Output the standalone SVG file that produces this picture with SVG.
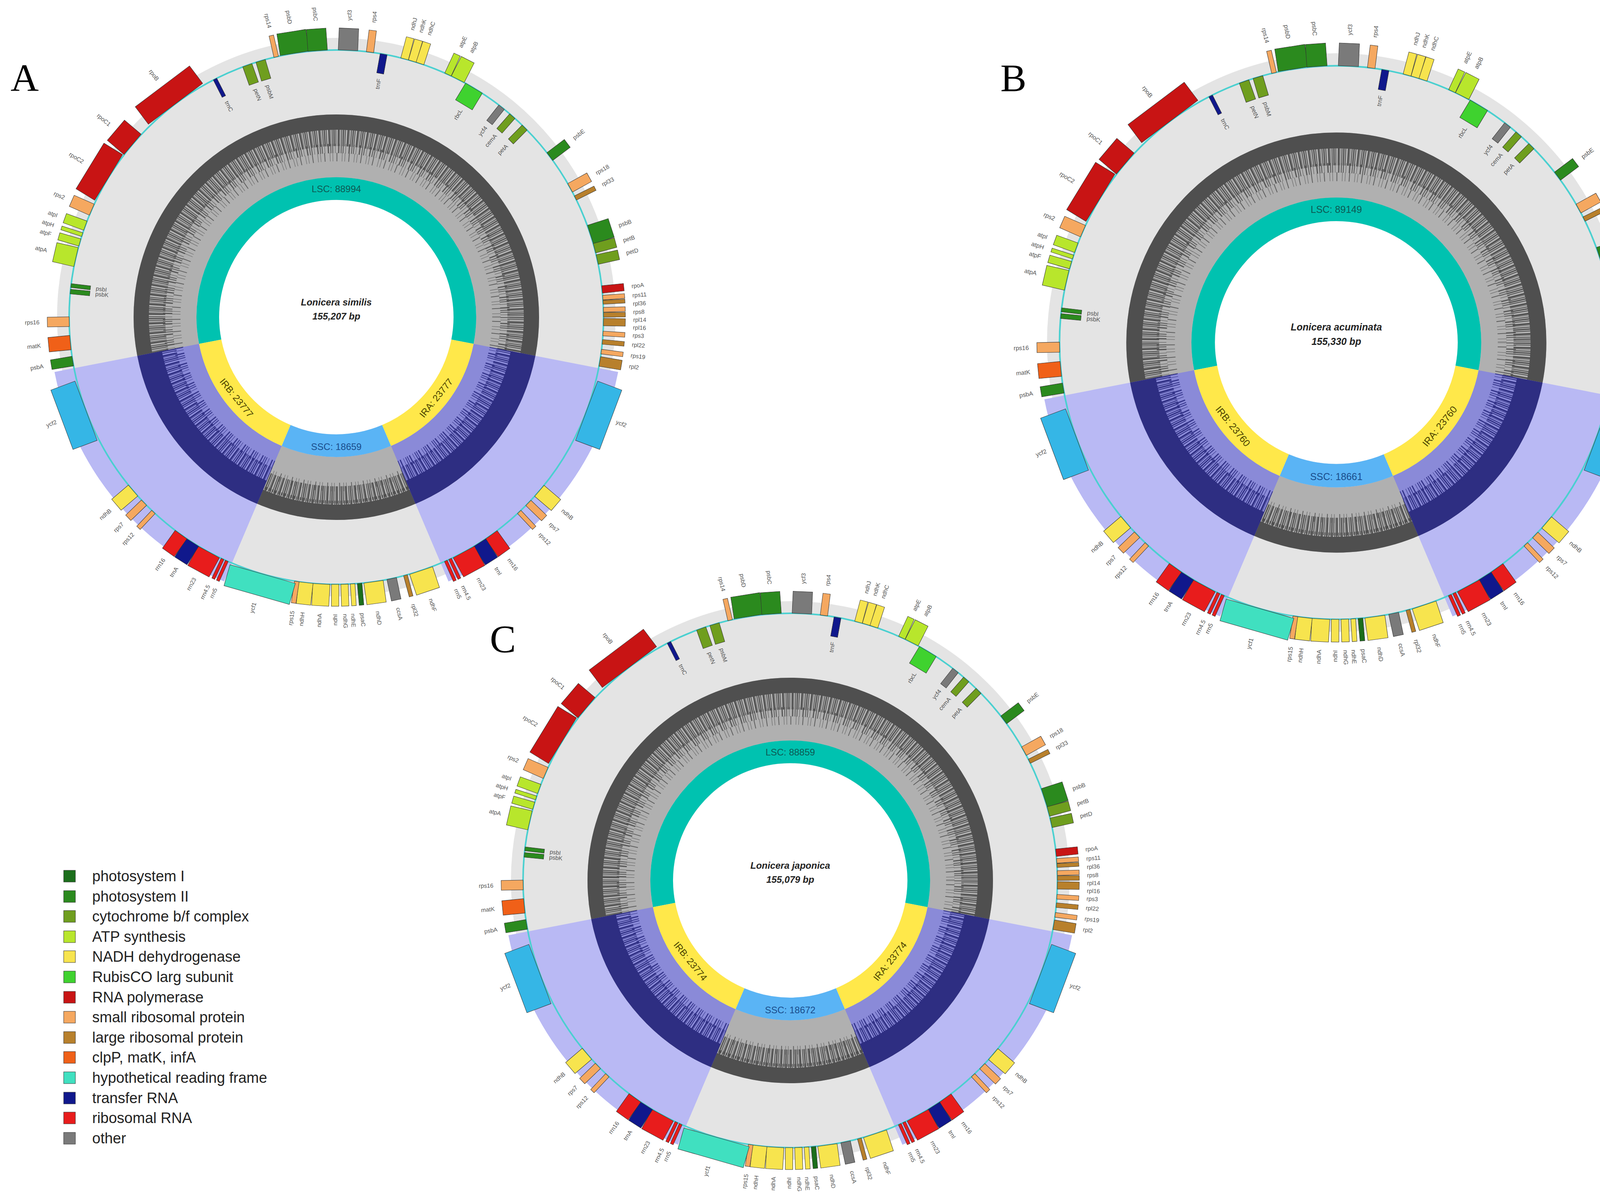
<svg xmlns="http://www.w3.org/2000/svg" xmlns:xlink="http://www.w3.org/1999/xlink" width="4287" height="3072" viewBox="0 0 4287 3072">
<style>
text{font-family:"Liberation Sans",Arial,sans-serif}
.pl{font-family:"Liberation Serif","Times New Roman",serif;font-size:100px;fill:#000}
.lg{font-size:38px;fill:#222}
.g rect{stroke:#333;stroke-width:1}
.c1{fill:#1b6e1b}.c2{fill:#2b8a1e}.c3{fill:#6f9e1e}.c4{fill:#b8e62c}.c5{fill:#f7e44e}.c6{fill:#3fd22f}.c7{fill:#c81414}.c8{fill:#f5a860}.c9{fill:#b8802c}.c10{fill:#f06018}.c11{fill:#40e0c0}.c12{fill:#10188c}.c13{fill:#e81c1c}.c14{fill:#7a7a7a}.c15{fill:#35b6e6}
.lb text{font-size:15px;fill:#555}
.lo{text-anchor:start}.le{text-anchor:end}
.ring{fill:none;stroke-width:58}
.ti{font-size:24px;font-weight:bold;font-style:italic;text-anchor:middle;fill:#222}
.rl{font-size:24px;text-anchor:middle}
.d1{fill:none;stroke-width:44;stroke-dasharray:3 2 2 4 4 1 1 3 2 2}
.d2{fill:none;stroke-width:24;stroke-dasharray:2 5 1 7 3 4 2 3}
.d3{fill:none;stroke-width:22;stroke-dasharray:1 9 2 12 1 6}
</style>
<defs>
<g id="map">
<circle r="715" fill="#e4e4e4"/>
<path d="M721.5 140.2 A735 735 0 0 1 287.2 676.6 L202.8 477.7 A519 519 0 0 0 509.5 99 Z" fill="#b9b9f4"/>
<path d="M-721.5 140.2 A735 735 0 0 0 -287.2 676.6 L-202.8 477.7 A519 519 0 0 1 -509.5 99 Z" fill="#b9b9f4"/>
<circle r="438.5" fill="none" stroke="#b0b0b0" stroke-width="161"/>
<circle r="499.5" fill="none" stroke="#4f4f4f" stroke-width="39"/>
<circle r="460" class="d1" stroke="#4f4f4f"/>
<circle r="432" class="d2" stroke="#555"/>
<circle r="410" class="d3" stroke="#5e5e5e"/>
<path d="M509.5 99 A519 519 0 0 1 202.8 477.7 L139.9 329.5 A358 358 0 0 0 351.4 68.3 Z" fill="#8a8ad8"/>
<path d="M-509.5 99 A519 519 0 0 0 -202.8 477.7 L-139.9 329.5 A358 358 0 0 1 -351.4 68.3 Z" fill="#8a8ad8"/>
<path d="M478 92.9 A487 487 0 0 1 190.3 448.3 M-478 92.9 A487 487 0 0 0 -190.3 448.3" fill="none" stroke="#2e2e82" stroke-width="64"/>
<path class="d1" stroke="#2e2e82" d="M431.7 83.9 A440 440 0 0 1 171.9 405 M-431.7 83.9 A440 440 0 0 0 -171.9 405"/>
<path class="d2" stroke="#34348a" d="M404.2 78.6 A412 412 0 0 1 161 379.2 M-404.2 78.6 A412 412 0 0 0 -161 379.2"/>
<path d="M183.6 432.6 A470 470 0 0 1 -183.6 432.6 L-139.9 329.5 A358 358 0 0 0 139.9 329.5 Z" fill="#b0b0b0"/>
<path class="d1" stroke="#4f4f4f" d="M177.8 418.8 A455 455 0 0 1 -177.8 418.8"/>
<path class="d3" stroke="#5e5e5e" d="M169.9 400.4 A435 435 0 0 1 -169.9 400.4"/>
<circle r="300" fill="#ffffff"/>
<path class="ring" stroke="#00c2b0" d="M-322.9 62.8 A329 329 0 1 1 322.9 62.8"/>
<path class="ring" stroke="#ffe84a" d="M322.9 62.8 A329 329 0 0 1 128.5 302.8 M-128.5 302.8 A329 329 0 0 1 -322.9 62.8"/>
<path class="ring" stroke="#5ab4f5" d="M128.5 302.8 A329 329 0 0 1 -128.5 302.8"/>
<circle r="684" fill="none" stroke="#4ad0d0" stroke-width="4"/>
<g class="g">
<rect class="c2" transform="rotate(351)" x="-37" y="-740" width="75" height="56"/>
<rect class="c2" transform="rotate(356)" x="-25" y="-740" width="50" height="56"/>
<rect class="c8" transform="rotate(347)" x="-6" y="-740" width="12" height="56"/>
<rect class="c14" transform="rotate(2.5)" x="-25" y="-740" width="50" height="56"/>
<rect class="c8" transform="rotate(7.2)" x="-9" y="-740" width="19" height="56"/>
<rect class="c12" transform="rotate(10.2)" x="-9" y="-684" width="18" height="50"/>
<rect class="c5" transform="rotate(14.8)" x="-10" y="-740" width="20" height="56"/>
<rect class="c5" transform="rotate(16.5)" x="-10" y="-740" width="21" height="56"/>
<rect class="c5" transform="rotate(18.2)" x="-10" y="-740" width="21" height="56"/>
<rect class="c4" transform="rotate(24.7)" x="-9" y="-740" width="18" height="56"/>
<rect class="c4" transform="rotate(27)" x="-18" y="-740" width="37" height="56"/>
<rect class="c6" transform="rotate(31)" x="-25" y="-684" width="50" height="50"/>
<rect class="c14" transform="rotate(38.2)" x="-9" y="-684" width="18" height="50"/>
<rect class="c3" transform="rotate(41.2)" x="-9" y="-684" width="18" height="50"/>
<rect class="c3" transform="rotate(44.8)" x="-9" y="-684" width="18" height="50"/>
<rect class="c2" transform="rotate(53)" x="-12" y="-740" width="25" height="56"/>
<rect class="c8" transform="rotate(61)" x="-12" y="-740" width="25" height="56"/>
<rect class="c9" transform="rotate(63.5)" x="-6" y="-740" width="12" height="56"/>
<rect class="c2" transform="rotate(72)" x="-25" y="-740" width="50" height="56"/>
<rect class="c3" transform="rotate(75)" x="-12" y="-740" width="25" height="56"/>
<rect class="c3" transform="rotate(77.5)" x="-12" y="-740" width="25" height="56"/>
<rect class="c7" transform="rotate(84)" x="-9" y="-740" width="19" height="56"/>
<rect class="c8" transform="rotate(85.8)" x="-6" y="-740" width="12" height="56"/>
<rect class="c9" transform="rotate(86.8)" x="-5" y="-740" width="10" height="56"/>
<rect class="c8" transform="rotate(88.4)" x="-6" y="-740" width="12" height="56"/>
<rect class="c9" transform="rotate(89.5)" x="-6" y="-740" width="12" height="56"/>
<rect class="c9" transform="rotate(91)" x="-9" y="-740" width="19" height="56"/>
<rect class="c8" transform="rotate(93.5)" x="-6" y="-740" width="12" height="56"/>
<rect class="c9" transform="rotate(95.3)" x="-6" y="-740" width="12" height="56"/>
<rect class="c8" transform="rotate(97.4)" x="-6" y="-740" width="12" height="56"/>
<rect class="c9" transform="rotate(99.5)" x="-12" y="-740" width="25" height="56"/>
<rect class="c15" transform="rotate(110.5)" x="-81" y="-750" width="162" height="66"/>
<rect class="c5" transform="rotate(130.5)" x="-18" y="-740" width="37" height="56"/>
<rect class="c8" transform="rotate(134)" x="-9" y="-740" width="19" height="56"/>
<rect class="c8" transform="rotate(136.8)" x="-6" y="-740" width="12" height="56"/>
<rect class="c13" transform="rotate(144.5)" x="-18" y="-740" width="37" height="56"/>
<rect class="c12" transform="rotate(147.5)" x="-18" y="-740" width="37" height="56"/>
<rect class="c13" transform="rotate(151.5)" x="-31" y="-740" width="62" height="56"/>
<rect class="c13" transform="rotate(154.8)" x="-4" y="-740" width="8" height="56"/>
<rect class="c13" transform="rotate(155.8)" x="-4" y="-740" width="8" height="56"/>
<rect class="c5" transform="rotate(161.5)" x="-31" y="-740" width="62" height="56"/>
<rect class="c9" transform="rotate(165)" x="-5" y="-740" width="10" height="56"/>
<rect class="c14" transform="rotate(168)" x="-12" y="-740" width="25" height="56"/>
<rect class="c5" transform="rotate(172)" x="-25" y="-740" width="50" height="56"/>
<rect class="c1" transform="rotate(175)" x="-6" y="-740" width="12" height="56"/>
<rect class="c5" transform="rotate(176.5)" x="-6" y="-740" width="12" height="56"/>
<rect class="c5" transform="rotate(178.2)" x="-9" y="-740" width="19" height="56"/>
<rect class="c5" transform="rotate(180.2)" x="-9" y="-740" width="19" height="56"/>
<rect class="c5" transform="rotate(183.2)" x="-22" y="-740" width="44" height="56"/>
<rect class="c5" transform="rotate(186.5)" x="-18" y="-740" width="37" height="56"/>
<rect class="c8" transform="rotate(188.5)" x="-6" y="-740" width="12" height="56"/>
<rect class="c11" transform="rotate(196)" x="-87" y="-740" width="174" height="56"/>
<rect class="c13" transform="rotate(204.2)" x="-4" y="-740" width="8" height="56"/>
<rect class="c13" transform="rotate(205.2)" x="-4" y="-740" width="8" height="56"/>
<rect class="c13" transform="rotate(208.5)" x="-31" y="-740" width="62" height="56"/>
<rect class="c12" transform="rotate(212.5)" x="-18" y="-740" width="37" height="56"/>
<rect class="c13" transform="rotate(215.5)" x="-18" y="-740" width="37" height="56"/>
<rect class="c8" transform="rotate(223.2)" x="-6" y="-740" width="12" height="56"/>
<rect class="c8" transform="rotate(226)" x="-9" y="-740" width="19" height="56"/>
<rect class="c5" transform="rotate(229.5)" x="-18" y="-740" width="37" height="56"/>
<rect class="c15" transform="rotate(249.5)" x="-81" y="-750" width="162" height="66"/>
<rect class="c2" transform="rotate(260.5)" x="-12" y="-740" width="25" height="56"/>
<rect class="c10" transform="rotate(264.5)" x="-18" y="-740" width="37" height="56"/>
<rect class="c8" transform="rotate(269)" x="-12" y="-740" width="25" height="56"/>
<rect class="c2" transform="rotate(275.5)" x="-6" y="-684" width="12" height="50"/>
<rect class="c2" transform="rotate(276.8)" x="-5" y="-684" width="10" height="50"/>
<rect class="c4" transform="rotate(283)" x="-25" y="-740" width="50" height="56"/>
<rect class="c4" transform="rotate(286.2)" x="-9" y="-740" width="19" height="56"/>
<rect class="c4" transform="rotate(288)" x="-5" y="-740" width="10" height="56"/>
<rect class="c4" transform="rotate(290)" x="-12" y="-740" width="25" height="56"/>
<rect class="c8" transform="rotate(293.7)" x="-15" y="-740" width="31" height="56"/>
<rect class="c7" transform="rotate(301.5)" x="-68" y="-740" width="137" height="56"/>
<rect class="c7" transform="rotate(310.3)" x="-34" y="-740" width="68" height="56"/>
<rect class="c7" transform="rotate(323)" x="-87" y="-740" width="174" height="56"/>
<rect class="c12" transform="rotate(333)" x="-5" y="-684" width="10" height="50"/>
<rect class="c3" transform="rotate(340.5)" x="-12" y="-684" width="25" height="50"/>
<rect class="c3" transform="rotate(343.5)" x="-12" y="-684" width="25" height="50"/>
</g>
<g class="lb">
<text class="le" transform="rotate(81)" x="-760" y="5">psbD</text>
<text class="le" transform="rotate(86)" x="-760" y="5">psbC</text>
<text class="le" transform="rotate(77)" x="-760" y="5">rps14</text>
<text class="lo" transform="rotate(-87.5)" x="760" y="5">ycf3</text>
<text class="lo" transform="rotate(-82.8)" x="760" y="5">rps4</text>
<text class="le" transform="rotate(-79.8)" x="620" y="5">trnF</text>
<text class="lo" transform="rotate(-75.2)" x="760" y="5">ndhJ</text>
<text class="lo" transform="rotate(-73.5)" x="760" y="5">ndhK</text>
<text class="lo" transform="rotate(-71.8)" x="760" y="5">ndhC</text>
<text class="lo" transform="rotate(-65.3)" x="760" y="5">atpE</text>
<text class="lo" transform="rotate(-63)" x="760" y="5">atpB</text>
<text class="le" transform="rotate(-59)" x="620" y="5">rbcL</text>
<text class="le" transform="rotate(-51.8)" x="620" y="5">ycf4</text>
<text class="le" transform="rotate(-48.8)" x="620" y="5">cemA</text>
<text class="le" transform="rotate(-45.2)" x="620" y="5">petA</text>
<text class="lo" transform="rotate(-37)" x="760" y="5">psbE</text>
<text class="lo" transform="rotate(-29)" x="760" y="5">rps18</text>
<text class="lo" transform="rotate(-26.5)" x="760" y="5">rpl33</text>
<text class="lo" transform="rotate(-18)" x="760" y="5">psbB</text>
<text class="lo" transform="rotate(-15)" x="760" y="5">petB</text>
<text class="lo" transform="rotate(-12.5)" x="760" y="5">petD</text>
<text class="lo" transform="rotate(-6)" x="760" y="5">rpoA</text>
<text class="lo" transform="rotate(-4.2)" x="760" y="5">rps11</text>
<text class="lo" transform="rotate(-2.6)" x="760" y="5">rpl36</text>
<text class="lo" transform="rotate(-1)" x="760" y="5">rps8</text>
<text class="lo" transform="rotate(0.5)" x="760" y="5">rpl14</text>
<text class="lo" transform="rotate(2)" x="760" y="5">rpl16</text>
<text class="lo" transform="rotate(3.5)" x="760" y="5">rps3</text>
<text class="lo" transform="rotate(5.3)" x="760" y="5">rpl22</text>
<text class="lo" transform="rotate(7.4)" x="760" y="5">rps19</text>
<text class="lo" transform="rotate(9.5)" x="760" y="5">rpl2</text>
<text class="lo" transform="rotate(20.5)" x="765" y="5">ycf2</text>
<text class="lo" transform="rotate(40.5)" x="760" y="5">ndhB</text>
<text class="lo" transform="rotate(44)" x="760" y="5">rps7</text>
<text class="lo" transform="rotate(46.8)" x="760" y="5">rps12</text>
<text class="lo" transform="rotate(54.5)" x="760" y="5">rrn16</text>
<text class="lo" transform="rotate(57.5)" x="760" y="5">trnI</text>
<text class="lo" transform="rotate(61.5)" x="760" y="5">rrn23</text>
<text class="lo" transform="rotate(64.8)" x="760" y="5">rrn4.5</text>
<text class="lo" transform="rotate(66.3)" x="760" y="5">rrn5</text>
<text class="lo" transform="rotate(71.5)" x="760" y="5">ndhF</text>
<text class="lo" transform="rotate(75)" x="760" y="5">rpl32</text>
<text class="lo" transform="rotate(78)" x="760" y="5">ccsA</text>
<text class="lo" transform="rotate(82)" x="760" y="5">ndhD</text>
<text class="lo" transform="rotate(85)" x="760" y="5">psaC</text>
<text class="lo" transform="rotate(86.8)" x="760" y="5">ndhE</text>
<text class="lo" transform="rotate(88.3)" x="760" y="5">ndhG</text>
<text class="le" transform="rotate(270.2)" x="-760" y="5">ndhI</text>
<text class="le" transform="rotate(273.2)" x="-760" y="5">ndhA</text>
<text class="le" transform="rotate(276.5)" x="-760" y="5">ndhH</text>
<text class="le" transform="rotate(278.5)" x="-760" y="5">rps15</text>
<text class="le" transform="rotate(286)" x="-760" y="5">ycf1</text>
<text class="le" transform="rotate(294)" x="-760" y="5">rrn5</text>
<text class="le" transform="rotate(295.5)" x="-760" y="5">rrn4.5</text>
<text class="le" transform="rotate(298.5)" x="-760" y="5">rrn23</text>
<text class="le" transform="rotate(302.5)" x="-760" y="5">trnA</text>
<text class="le" transform="rotate(305.5)" x="-760" y="5">rrn16</text>
<text class="le" transform="rotate(313.2)" x="-760" y="5">rps12</text>
<text class="le" transform="rotate(316)" x="-760" y="5">rps7</text>
<text class="le" transform="rotate(319.5)" x="-760" y="5">ndhB</text>
<text class="le" transform="rotate(339.5)" x="-765" y="5">ycf2</text>
<text class="le" transform="rotate(350.5)" x="-760" y="5">psbA</text>
<text class="le" transform="rotate(354.5)" x="-760" y="5">matK</text>
<text class="le" transform="rotate(359)" x="-760" y="5">rps16</text>
<text class="lo" transform="rotate(365.5)" x="-620" y="5">psbK</text>
<text class="lo" transform="rotate(366.8)" x="-620" y="5">psbI</text>
<text class="le" transform="rotate(13)" x="-760" y="5">atpA</text>
<text class="le" transform="rotate(16.2)" x="-760" y="5">atpF</text>
<text class="le" transform="rotate(18)" x="-760" y="5">atpH</text>
<text class="le" transform="rotate(20)" x="-760" y="5">atpI</text>
<text class="le" transform="rotate(23.7)" x="-760" y="5">rps2</text>
<text class="le" transform="rotate(31.5)" x="-760" y="5">rpoC2</text>
<text class="le" transform="rotate(40.3)" x="-760" y="5">rpoC1</text>
<text class="le" transform="rotate(53)" x="-760" y="5">rpoB</text>
<text class="lo" transform="rotate(63)" x="-620" y="5">trnC</text>
<text class="lo" transform="rotate(70.5)" x="-620" y="5">petN</text>
<text class="lo" transform="rotate(73.5)" x="-620" y="5">psbM</text>
</g>
</g>
</defs>
<g id="labels">
<text class="pl" x="27" y="233">A</text>
<text class="pl" x="2561" y="233">B</text>
<text class="pl" x="1254" y="1669">C</text>
</g>
<g id="mapA" transform="translate(861,812)">
<use href="#map" xlink:href="#map"/>
<text class="rl" x="0" y="-320" fill="#0d5b55">LSC: 88994</text>
<text class="rl" x="0" y="340" fill="#1a4d8c">SSC: 18659</text>
<text class="rl" transform="translate(-255.7,207) rotate(51)" y="8" fill="#4a4200">IRB: 23777</text>
<text class="rl" transform="translate(255.7,207) rotate(-51)" y="8" fill="#4a4200">IRA: 23777</text>
<text class="ti" x="0" y="-30">Lonicera similis</text>
<text class="ti" x="0" y="6">155,207 bp</text>
</g>
<g id="mapB" transform="translate(3421,877) scale(1.036)">
<use href="#map" xlink:href="#map"/>
<text class="rl" x="0" y="-320" fill="#0d5b55">LSC: 89149</text>
<text class="rl" x="0" y="340" fill="#1a4d8c">SSC: 18661</text>
<text class="rl" transform="translate(-255.7,207) rotate(51)" y="8" fill="#4a4200">IRB: 23760</text>
<text class="rl" transform="translate(255.7,207) rotate(-51)" y="8" fill="#4a4200">IRA: 23760</text>
<text class="ti" x="0" y="-30">Lonicera acuminata</text>
<text class="ti" x="0" y="6">155,330 bp</text>
</g>
<g id="mapC" transform="translate(2023,2254)">
<use href="#map" xlink:href="#map"/>
<text class="rl" x="0" y="-320" fill="#0d5b55">LSC: 88859</text>
<text class="rl" x="0" y="340" fill="#1a4d8c">SSC: 18672</text>
<text class="rl" transform="translate(-255.7,207) rotate(51)" y="8" fill="#4a4200">IRB: 23774</text>
<text class="rl" transform="translate(255.7,207) rotate(-51)" y="8" fill="#4a4200">IRA: 23774</text>
<text class="ti" x="0" y="-30">Lonicera japonica</text>
<text class="ti" x="0" y="6">155,079 bp</text>
</g>
<g id="legend">
<g class="g">
<rect class="c1" x="163" y="2228" width="30" height="30"/>
<rect class="c2" x="163" y="2280" width="30" height="30"/>
<rect class="c3" x="163" y="2331" width="30" height="30"/>
<rect class="c4" x="163" y="2383" width="30" height="30"/>
<rect class="c5" x="163" y="2434" width="30" height="30"/>
<rect class="c6" x="163" y="2486" width="30" height="30"/>
<rect class="c7" x="163" y="2538" width="30" height="30"/>
<rect class="c8" x="163" y="2589" width="30" height="30"/>
<rect class="c9" x="163" y="2641" width="30" height="30"/>
<rect class="c10" x="163" y="2692" width="30" height="30"/>
<rect class="c11" x="163" y="2744" width="30" height="30"/>
<rect class="c12" x="163" y="2796" width="30" height="30"/>
<rect class="c13" x="163" y="2847" width="30" height="30"/>
<rect class="c14" x="163" y="2899" width="30" height="30"/>
</g>
<text class="lg" x="236" y="2256">photosystem I</text>
<text class="lg" x="236" y="2308">photosystem II</text>
<text class="lg" x="236" y="2359">cytochrome b/f complex</text>
<text class="lg" x="236" y="2411">ATP synthesis</text>
<text class="lg" x="236" y="2462">NADH dehydrogenase</text>
<text class="lg" x="236" y="2514">RubisCO larg subunit</text>
<text class="lg" x="236" y="2566">RNA polymerase</text>
<text class="lg" x="236" y="2617">small ribosomal protein</text>
<text class="lg" x="236" y="2669">large ribosomal protein</text>
<text class="lg" x="236" y="2720">clpP, matK, infA</text>
<text class="lg" x="236" y="2772">hypothetical reading frame</text>
<text class="lg" x="236" y="2824">transfer RNA</text>
<text class="lg" x="236" y="2875">ribosomal RNA</text>
<text class="lg" x="236" y="2927">other</text>
</g>
</svg>
